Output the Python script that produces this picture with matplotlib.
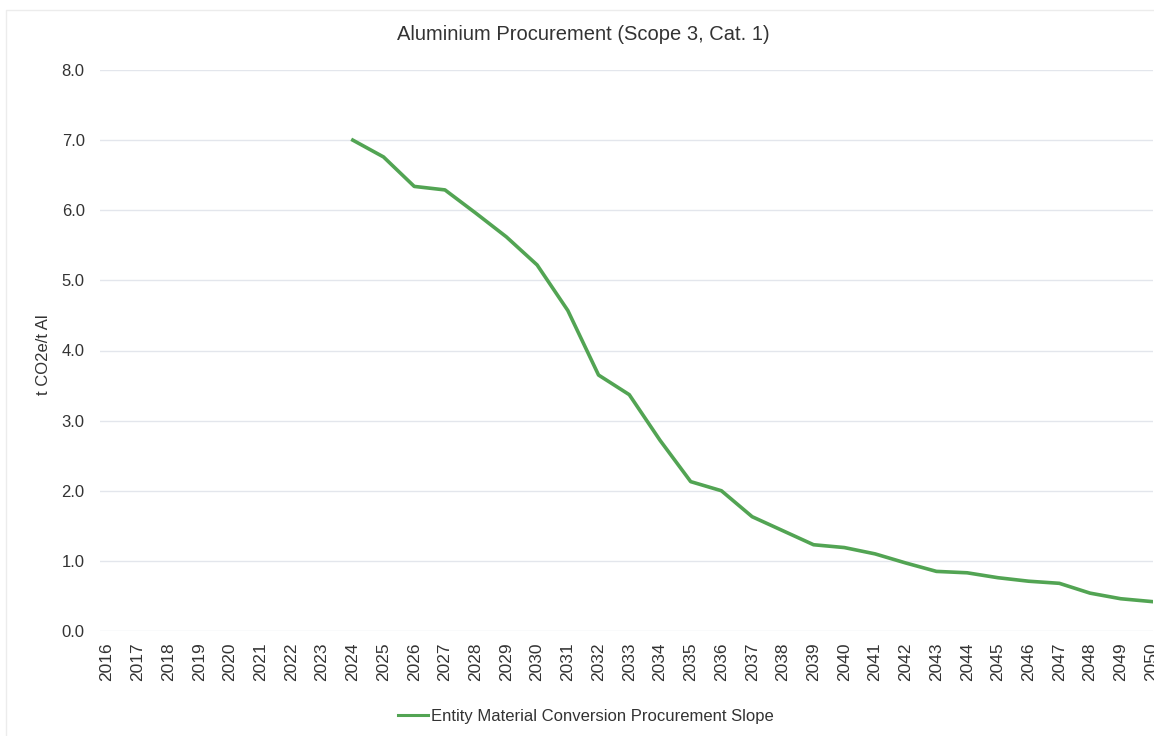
import matplotlib
matplotlib.use("Agg")
import matplotlib.pyplot as plt
import numpy as np
from matplotlib.patches import Rectangle

years = list(range(2016, 2051))
year_labels = [str(y) for y in years]
slope_years = list(range(2024, 2051))
slope_values = [7.00, 6.76, 6.34, 6.29, 5.96, 5.62, 5.22, 4.57, 3.65, 3.37,
                2.72, 2.13, 2.00, 1.63, 1.43, 1.23, 1.19, 1.10, 0.97, 0.85,
                0.83, 0.76, 0.71, 0.68, 0.54, 0.46, 0.42]
y_ticks = [0.0, 1.0, 2.0, 3.0, 4.0, 5.0, 6.0, 7.0, 8.0]

W, H = 1154, 736
fig = plt.figure(figsize=(W / 100, H / 100), dpi=100)
fig.patch.set_facecolor("white")

font = "Liberation Sans"
txt = "#333333"

left_px, right_px = 100, 1153
top_px, bot_px = 70, 631
ax = fig.add_axes([left_px / W, 1 - bot_px / H, (right_px - left_px) / W, (bot_px - top_px) / H])

x_idx = [years.index(y) for y in slope_years]
ax.plot(x_idx, slope_values, color="#52a453", lw=2.6, solid_joinstyle="round",
        label="Entity Material Conversion Procurement Slope", zorder=3)

ax.set_ylim(0, 8)
ax.set_xlim(-0.23, 34.05)
ax.set_yticks(y_ticks)
ax.set_yticklabels([f"{v:.1f}" for v in y_ticks], fontsize=12, fontfamily=font, color=txt)
ax.set_xticks(range(len(years)))
ax.set_xticklabels(year_labels, rotation=90, fontsize=12.5, fontfamily=font, color=txt)
ax.tick_params(axis="both", length=0)
ax.tick_params(axis="y", pad=11)
ax.tick_params(axis="x", pad=8)
ax.grid(axis="y", color="#e3e6ec", lw=1.0)
ax.set_axisbelow(True)
for s in ax.spines.values():
    s.set_visible(False)

fig.text(44 / W, 1 - 355 / H, "t CO2e/t Al", rotation=90, ha="center", va="center",
         fontsize=12, fontfamily=font, color=txt)
fig.text(583 / W, 1 - 34 / H, "Aluminium Procurement (Scope 3, Cat. 1)", ha="center", va="center",
         fontsize=14.5, fontfamily=font, color=txt)

leg = fig.legend(loc="center", bbox_to_anchor=(586 / W, 1 - 716 / H), frameon=False,
                 prop={"family": font, "size": 12}, handlelength=1.8, handletextpad=0.2)
for t in leg.get_texts():
    t.set_color(txt)
for h in leg.get_lines():
    h.set_linewidth(2.2)

fig.patches.append(Rectangle((6 / W, -0.1), 1.2, 1 - 10 / H + 0.1, transform=fig.transFigure,
                             fill=False, edgecolor="#ececec", lw=1.0))

fig.savefig("out.png", dpi=100, facecolor="white")
